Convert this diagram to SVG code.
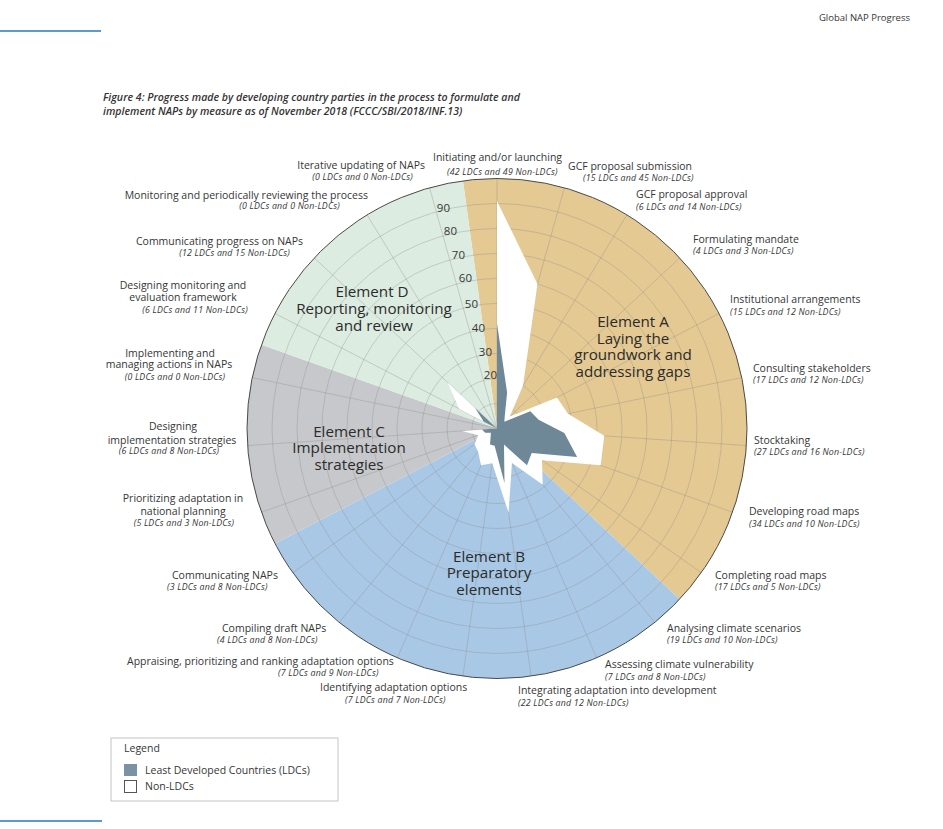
<svg xmlns="http://www.w3.org/2000/svg" width="943" height="829" viewBox="0 0 943 829">
<style>
text{font-family:"Open Sans","Liberation Sans",sans-serif;fill:#363636}
.lbl{font-size:10.5px}
.sub{font-size:8.8px;font-style:italic;letter-spacing:0.2px}
.mid{text-anchor:middle}
.end{text-anchor:end}
.el{font-size:15.2px;fill:#2b2b2b;text-anchor:middle}
.ax{font-size:11.5px;text-anchor:end}
.ttl{font-size:10.6px;font-style:italic;font-weight:600;fill:#333}
.grid{fill:none;stroke:#8f8c86;stroke-opacity:0.4;stroke-width:0.9}
</style>
<rect width="943" height="829" fill="#fff"/>
<g id="page">
<line x1="0" y1="31" x2="101" y2="31" stroke="#5b9bd0" stroke-width="2"/>
<line x1="0" y1="821" x2="102" y2="821" stroke="#5b9bd0" stroke-width="2"/>
<text x="910" y="21" class="end" style="font-size:9.5px">Global NAP Progress</text>
<text x="103" y="101" class="ttl">Figure 4: Progress made by developing country parties in the process to formulate and</text>
<text x="103" y="115" class="ttl">implement NAPs by measure as of November 2018 (FCCC/SBI/2018/INF.13)</text>
</g>
<g id="sectors">
<path d="M497,428.5 L462.96,180.83 A250,250 0 0 1 679.71,599.14 Z" fill="#e4c993"/>
<path d="M497,428.5 L679.71,599.14 A250,250 0 0 1 275.03,543.52 Z" fill="#a8c8e6"/>
<path d="M497,428.5 L275.03,543.52 A250,250 0 0 1 261.43,344.78 Z" fill="#c6c8cb"/>
<path d="M497,428.5 L261.43,344.78 A250,250 0 0 1 462.96,180.83 Z" fill="#dcece1"/>
</g>
<g id="grid" class="grid">
<circle cx="497" cy="428.5" r="25"/>
<circle cx="497" cy="428.5" r="50"/>
<circle cx="497" cy="428.5" r="75"/>
<circle cx="497" cy="428.5" r="100"/>
<circle cx="497" cy="428.5" r="125"/>
<circle cx="497" cy="428.5" r="150"/>
<circle cx="497" cy="428.5" r="175"/>
<circle cx="497" cy="428.5" r="200"/>
<circle cx="497" cy="428.5" r="225"/>
<path d="M497,428.5L497,178.5M497,428.5L564.45,187.77M497,428.5L626.9,214.9M497,428.5L679.71,257.86M497,428.5L718.97,313.48M497,428.5L741.77,377.64M497,428.5L746.42,445.56M497,428.5L732.57,512.22M497,428.5L701.24,572.67M497,428.5L654.77,622.43M497,428.5L596.6,657.8M497,428.5L531.04,676.17M497,428.5L462.96,676.17M497,428.5L397.4,657.8M497,428.5L339.23,622.43M497,428.5L292.76,572.67M497,428.5L261.43,512.22M497,428.5L247.58,445.56M497,428.5L252.23,377.64M497,428.5L275.03,313.48M497,428.5L314.29,257.86M497,428.5L367.1,214.9M497,428.5L429.55,187.77"/>
</g>
<g id="axis-labels">
<text x="450" y="212" class="ax">90</text>
<text x="457" y="235" class="ax">80</text>
<text x="465" y="259" class="ax">70</text>
<text x="472" y="282" class="ax">60</text>
<text x="478" y="308" class="ax">50</text>
<text x="485" y="332" class="ax">40</text>
<text x="492" y="356" class="ax">30</text>
<text x="497" y="379" class="ax">20</text>
</g>
<circle cx="497" cy="428.5" r="250" fill="none" stroke="#4a4a4a" stroke-width="1"/>
<g id="series">
<polygon id="non-ldc" fill="#fff" points="497,201 537.47,284.06 522.98,385.78 509.79,416.56 556.93,397.45 567.98,413.75 604.25,435.84 600.65,465.34 541.93,460.22 542.75,484.74 511.94,462.9 508.57,512.71 492.23,463.17 481.06,465.19 478.07,451.77 474.53,444.36 478.15,435.2 462.08,430.89 497,428.5 459.26,408.95 447.67,382.43 497,428.5 497,428.5"/>
<polygon id="ldc" fill="#6e8898" points="497,323.5 507.12,392.39 504.79,415.68 504.31,421.67 530.3,411.25 538.61,419.85 564.34,433.11 577.09,456.96 531.72,453.01 526.98,465.35 503.97,444.55 504.49,482.99 494.62,445.84 490.03,444.55 490.69,436.26 490.87,432.83 485.22,432.69 482.03,429.52 497,428.5 483.68,421.6 475.07,408.02 497,428.5 497,428.5"/>
</g>
<g id="element-labels">
<text class="el" x="633" y="327">Element A</text>
<text class="el" x="633" y="344">Laying the</text>
<text class="el" x="633" y="360">groundwork and</text>
<text class="el" x="633" y="377">addressing gaps</text>
<text class="el" x="489" y="562">Element B</text>
<text class="el" x="489" y="578">Preparatory</text>
<text class="el" x="489" y="595">elements</text>
<text class="el" x="349" y="437">Element C</text>
<text class="el" x="349" y="453">Implementation</text>
<text class="el" x="349" y="470">strategies</text>
<text class="el" x="372" y="297">Element D</text>
<text class="el" x="374" y="314">Reporting, monitoring</text>
<text class="el" x="374" y="331">and review</text>
</g>
<g id="measure-labels">
<g id="m-initiating"><text class="lbl" x="433" y="161">Initiating and/or launching</text><text class="sub" x="447" y="175">(42 LDCs and 49 Non-LDCs)</text></g>
<g id="m-gcf-sub"><text class="lbl" x="568" y="170">GCF proposal submission</text><text class="sub" x="583" y="181">(15 LDCs and 45 Non-LDCs)</text></g>
<g id="m-gcf-app"><text class="lbl" x="636" y="198">GCF proposal approval</text><text class="sub" x="636" y="210">(6 LDCs and 14 Non-LDCs)</text></g>
<g id="m-mandate"><text class="lbl" x="693" y="243">Formulating mandate</text><text class="sub" x="693" y="254">(4 LDCs and 3 Non-LDCs)</text></g>
<g id="m-institutional"><text class="lbl" x="730" y="303">Institutional arrangements</text><text class="sub" x="730" y="315">(15 LDCs and 12 Non-LDCs)</text></g>
<g id="m-consulting"><text class="lbl" x="753" y="372">Consulting stakeholders</text><text class="sub" x="753" y="383">(17 LDCs and 12 Non-LDCs)</text></g>
<g id="m-stocktaking"><text class="lbl" x="754" y="444">Stocktaking</text><text class="sub" x="754" y="455">(27 LDCs and 16 Non-LDCs)</text></g>
<g id="m-developing"><text class="lbl" x="749" y="515">Developing road maps</text><text class="sub" x="749" y="527">(34 LDCs and 10 Non-LDCs)</text></g>
<g id="m-completing"><text class="lbl" x="715" y="579">Completing road maps</text><text class="sub" x="715" y="590">(17 LDCs and 5 Non-LDCs)</text></g>
<g id="m-analysing"><text class="lbl" x="667" y="632">Analysing climate scenarios</text><text class="sub" x="667" y="643">(19 LDCs and 10 Non-LDCs)</text></g>
<g id="m-assessing"><text class="lbl" x="605" y="668">Assessing climate vulnerability</text><text class="sub" x="605" y="680">(7 LDCs and 8 Non-LDCs)</text></g>
<g id="m-integrating"><text class="lbl" x="518" y="694">Integrating adaptation into development</text><text class="sub" x="518" y="706">(22 LDCs and 12 Non-LDCs)</text></g>
<g id="m-identifying"><text class="lbl" x="320" y="691">Identifying adaptation options</text><text class="sub" x="345" y="703">(7 LDCs and 7 Non-LDCs)</text></g>
<g id="m-appraising"><text class="lbl" x="127" y="665">Appraising, prioritizing and ranking adaptation options</text><text class="sub" x="278" y="676">(7 LDCs and 9 Non-LDCs)</text></g>
<g id="m-compiling"><text class="lbl" x="222" y="632">Compiling draft NAPs</text><text class="sub" x="217" y="643">(4 LDCs and 8 Non-LDCs)</text></g>
<g id="m-communicating"><text class="lbl" x="172" y="579">Communicating NAPs</text><text class="sub" x="167" y="590">(3 LDCs and 8 Non-LDCs)</text></g>
<g id="m-prioritizing"><text class="lbl mid" x="183" y="502">Prioritizing adaptation in</text><text class="lbl mid" x="183" y="515">national planning</text><text class="sub mid" x="184" y="526">(5 LDCs and 3 Non-LDCs)</text></g>
<g id="m-designing-impl"><text class="lbl mid" x="173" y="430">Designing</text><text class="lbl mid" x="172" y="444">implementation strategies</text><text class="sub mid" x="169" y="454">(6 LDCs and 8 Non-LDCs)</text></g>
<g id="m-implementing"><text class="lbl mid" x="170" y="357">Implementing and</text><text class="lbl mid" x="169" y="368">managing actions in NAPs</text><text class="sub mid" x="175" y="380">(0 LDCs and 0 Non-LDCs)</text></g>
<g id="m-designing-me"><text class="lbl mid" x="183" y="289">Designing monitoring and</text><text class="lbl mid" x="183" y="301">evaluation framework</text><text class="sub end" x="248" y="313">(6 LDCs and 11 Non-LDCs)</text></g>
<g id="m-comm-progress"><text class="lbl end" x="303" y="245">Communicating progress on NAPs</text><text class="sub end" x="290" y="256">(12 LDCs and 15 Non-LDCs)</text></g>
<g id="m-monitoring"><text class="lbl end" x="368" y="199">Monitoring and periodically reviewing the process</text><text class="sub end" x="340" y="209">(0 LDCs and 0 Non-LDCs)</text></g>
<g id="m-iterative"><text class="lbl end" x="425" y="169">Iterative updating of NAPs</text><text class="sub end" x="413" y="180">(0 LDCs and 0 Non-LDCs)</text></g>
</g>
<g id="legend">
<rect x="111" y="738" width="227" height="63" fill="#fff" stroke="#c4c4c4" stroke-width="1"/>
<text x="124" y="752" class="lbl">Legend</text>
<rect x="124" y="764" width="13" height="12" fill="#7a92a3"/>
<text x="145" y="774" class="lbl">Least Developed Countries (LDCs)</text>
<rect x="124.5" y="780.5" width="12" height="12" fill="#fff" stroke="#555" stroke-width="1"/>
<text x="145" y="790" class="lbl">Non-LDCs</text>
</g>
</svg>
